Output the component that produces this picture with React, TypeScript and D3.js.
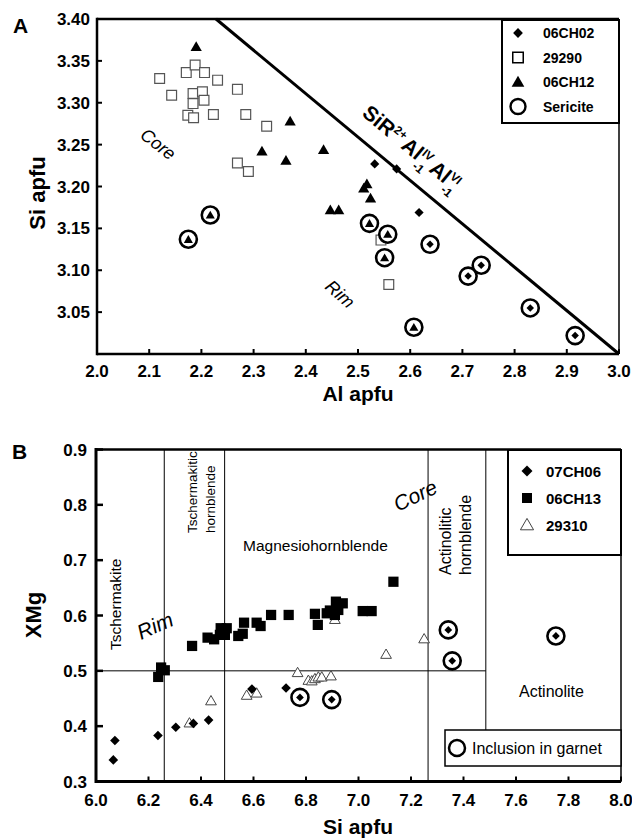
import React from "react";
import * as d3 from "d3";

const FONT = "'Liberation Sans', Arial, Helvetica, sans-serif";

// ---------- Panel A data: [Al apfu, Si apfu] ----------
const a06CH02 = [[2.532, 3.227], [2.574, 3.221], [2.617, 3.169]];
const a06CH02Sericite = [[2.638, 3.131], [2.711, 3.093], [2.736, 3.106], [2.830, 3.055], [2.916, 3.022]];
const a29290 = [
  [2.120, 3.329], [2.171, 3.336], [2.188, 3.345], [2.206, 3.336], [2.231, 3.327], [2.269, 3.316],
  [2.143, 3.309], [2.184, 3.311], [2.202, 3.313], [2.184, 3.299], [2.205, 3.303], [2.174, 3.285],
  [2.185, 3.282], [2.223, 3.286], [2.285, 3.286], [2.325, 3.272], [2.269, 3.228], [2.290, 3.218],
  [2.544, 3.136], [2.559, 3.083],
];
const a06CH12 = [
  [2.190, 3.367], [2.370, 3.278], [2.316, 3.242], [2.362, 3.231], [2.434, 3.244], [2.447, 3.172],
  [2.463, 3.172], [2.511, 3.198], [2.517, 3.203], [2.524, 3.186],
];
const a06CH12Sericite = [[2.175, 3.137], [2.217, 3.166], [2.522, 3.156], [2.557, 3.143], [2.551, 3.115], [2.607, 3.032]];
const aExchangeLine = [[2.228, 3.40], [3.0, 3.0]];
const aXTicks = [2.0, 2.1, 2.2, 2.3, 2.4, 2.5, 2.6, 2.7, 2.8, 2.9, 3.0];
const aYTicks = [3.05, 3.10, 3.15, 3.20, 3.25, 3.30, 3.35, 3.40];
const aLegend = ["06CH02", "29290", "06CH12", "Sericite"];

// ---------- Panel B data: [Si apfu, XMg] ----------
const b07CH06 = [[6.066, 0.339], [6.072, 0.374], [6.236, 0.383], [6.304, 0.398], [6.371, 0.405], [6.429, 0.411], [6.594, 0.467], [6.724, 0.469]];
const b07CH06Inclusion = [[6.777, 0.452], [6.898, 0.448], [7.342, 0.574], [7.357, 0.518], [7.752, 0.563]];
const b06CH13 = [
  [6.237, 0.489], [6.248, 0.506], [6.262, 0.501], [6.366, 0.545], [6.425, 0.560], [6.450, 0.557],
  [6.472, 0.565], [6.475, 0.577], [6.498, 0.577], [6.491, 0.565], [6.542, 0.563], [6.559, 0.567],
  [6.564, 0.587], [6.612, 0.587], [6.627, 0.581], [6.667, 0.601], [6.734, 0.601], [6.834, 0.603],
  [6.845, 0.583], [6.879, 0.604], [6.891, 0.609], [6.910, 0.601], [6.914, 0.625], [6.923, 0.610],
  [6.940, 0.622], [7.016, 0.608], [7.050, 0.608], [7.133, 0.661],
];
const b29310 = [
  [6.356, 0.406], [6.438, 0.446], [6.574, 0.456], [6.612, 0.460], [6.768, 0.497], [6.809, 0.483],
  [6.822, 0.482], [6.834, 0.486], [6.847, 0.489], [6.860, 0.489], [6.895, 0.491], [6.910, 0.593],
  [7.105, 0.530], [7.250, 0.558],
];
const bBoundaries = [6.26, 6.49, 7.265, 7.485];
const bXTicks = [6.0, 6.2, 6.4, 6.6, 6.8, 7.0, 7.2, 7.4, 7.6, 7.8, 8.0];
const bYTicks = [0.3, 0.4, 0.5, 0.6, 0.7, 0.8, 0.9];
const bLegend = ["07CH06", "06CH13", "29310"];

const sq = (s: number) => d3.symbol(d3.symbolSquare, s)() as string;
const tri = (s: number) => d3.symbol(d3.symbolTriangle, s)() as string;

function Diamond({ x, y, size }: { x: number; y: number; size: number }) {
  return <path d={sq(size)} transform={`translate(${x},${y}) rotate(45)`} fill="#000" />;
}
function Tri({ x, y, size, open }: { x: number; y: number; size: number; open?: boolean }) {
  return (
    <path
      d={tri(size)}
      transform={`translate(${x},${y + 1})`}
      fill={open ? "#fff" : "#000"}
      stroke={open ? "#444" : "none"}
      strokeWidth={open ? 1 : 0}
    />
  );
}

export default function App() {
  // Panel A scales
  const xA = d3.scaleLinear().domain([2.0, 3.0]).range([97, 619]);
  const yA = d3.scaleLinear().domain([3.0, 3.4]).range([354, 19]);
  // Panel B scales
  const xB = d3.scaleLinear().domain([6.0, 8.0]).range([96, 621]);
  const yB = d3.scaleLinear().domain([0.3, 0.9]).range([781.5, 449.5]);

  const line = d3.line<number[]>().x((d) => xA(d[0])).y((d) => yA(d[1]));
  const ang = (Math.atan2(yA(3.0) - yA(3.4), xA(3.0) - xA(2.228)) * 180) / Math.PI;

  return (
    <svg
      width={632}
      height={839}
      style={{ position: "absolute", left: 0, top: 0, background: "#fff" }}
      fontFamily={FONT}
    >
      <rect width={632} height={839} fill="#fff" />
      {/* ================= PANEL A ================= */}
      <text x={13} y={33} fontSize={21} fontWeight="bold">A</text>
      {/* frame */}
      <line x1={xA(2.0)} x2={xA(3.0)} y1={yA(3.4)} y2={yA(3.4)} stroke="#000" strokeWidth={2.5} />
      <line x1={xA(3.0)} x2={xA(3.0)} y1={yA(3.4)} y2={yA(3.0)} stroke="#000" strokeWidth={1.5} />
      <line x1={xA(2.0)} x2={xA(2.0)} y1={yA(3.4) - 1.2} y2={yA(3.0) + 1.2} stroke="#000" strokeWidth={2.5} />
      <line x1={xA(2.0)} x2={xA(3.0)} y1={yA(3.0)} y2={yA(3.0)} stroke="#000" strokeWidth={2.5} />
      {aXTicks.map((t) => (
        <g key={"ax" + t}>
          <line x1={xA(t)} x2={xA(t)} y1={yA(3.0)} y2={yA(3.0) - 5} stroke="#000" strokeWidth={2} />
          <text x={xA(t)} y={yA(3.0) + 23} fontSize={17} fontWeight="bold" textAnchor="middle">
            {t.toFixed(1)}
          </text>
        </g>
      ))}
      {aYTicks.map((t) => (
        <g key={"ay" + t}>
          <line x1={xA(2.0)} x2={xA(2.0) + 5} y1={yA(t)} y2={yA(t)} stroke="#000" strokeWidth={2} />
          <text x={xA(2.0) - 7} y={yA(t) + 6} fontSize={17} fontWeight="bold" textAnchor="end">
            {t.toFixed(2)}
          </text>
        </g>
      ))}
      <text transform="translate(45,193) rotate(-90)" fontSize={22} fontWeight="bold" textAnchor="middle">Si apfu</text>
      <text x={358} y={401} fontSize={21} fontWeight="bold" textAnchor="middle">Al apfu</text>

      {/* exchange vector line */}
      <path d={line(aExchangeLine) as string} stroke="#000" strokeWidth={3} fill="none" />
      <text transform={`translate(361,115) rotate(${ang})`} fontSize={21} fontWeight="bold">
        SiR<tspan dy={-8} fontSize={12}>2+</tspan>
        <tspan dy={8} dx={2}>Al</tspan>
        <tspan dy={-8} fontSize={12}>IV</tspan>
        <tspan dy={16} dx={-10} fontSize={12}>-1</tspan>
        <tspan dy={-8} dx={4}>Al</tspan>
        <tspan dy={-8} fontSize={12}>VI</tspan>
        <tspan dy={16} dx={-10} fontSize={12}>-1</tspan>
      </text>
      <text transform="translate(139,137) rotate(38)" fontSize={18} fontStyle="italic">Core</text>
      <text transform="translate(324,288) rotate(42)" fontSize={18} fontStyle="italic">Rim</text>

      {/* 29290 open squares */}
      {a29290.map((d, i) => (
        <path key={"sq" + i} d={sq(96)} transform={`translate(${xA(d[0])},${yA(d[1])})`} fill="#fff" stroke="#555" strokeWidth={1.2} />
      ))}
      {/* 06CH12 triangles */}
      {a06CH12.map((d, i) => (
        <Tri key={"t" + i} x={xA(d[0])} y={yA(d[1])} size={55} />
      ))}
      {/* 06CH02 diamonds */}
      {a06CH02.map((d, i) => (
        <Diamond key={"d" + i} x={xA(d[0])} y={yA(d[1])} size={42} />
      ))}
      {/* sericite (circled) */}
      {a06CH12Sericite.map((d, i) => (
        <g key={"st" + i}>
          <circle cx={xA(d[0])} cy={yA(d[1])} r={8.5} fill="#fff" stroke="#000" strokeWidth={2.6} />
          <Tri x={xA(d[0])} y={yA(d[1])} size={36} />
        </g>
      ))}
      {a06CH02Sericite.map((d, i) => (
        <g key={"sd" + i}>
          <circle cx={xA(d[0])} cy={yA(d[1])} r={8.5} fill="#fff" stroke="#000" strokeWidth={2.6} />
          <Diamond x={xA(d[0])} y={yA(d[1])} size={28} />
        </g>
      ))}

      {/* legend A */}
      <rect x={502} y={20} width={117} height={103} fill="#fff" stroke="#000" strokeWidth={2} />
      {aLegend.map((name, i) => {
        const cy = 33 + i * 24.5;
        const cx = 518;
        return (
          <g key={"la" + name}>
            {i === 0 && <Diamond x={cx} y={cy} size={48} />}
            {i === 1 && <path d={sq(110)} transform={`translate(${cx},${cy})`} fill="#fff" stroke="#000" strokeWidth={1.5} />}
            {i === 2 && <Tri x={cx} y={cy} size={70} />}
            {i === 3 && <circle cx={cx} cy={cy} r={7.5} fill="#fff" stroke="#000" strokeWidth={2.4} />}
            <text x={543} y={cy + 5} fontSize={14} fontWeight="bold">{name}</text>
          </g>
        );
      })}

      {/* ================= PANEL B ================= */}
      <text x={12} y={459} fontSize={21} fontWeight="bold">B</text>
      {/* field boundaries */}
      {bBoundaries.map((b, i) => (
        <line
          key={"bb" + i}
          x1={xB(b)}
          x2={xB(b)}
          y1={yB(0.9)}
          y2={i === 3 ? 730 : yB(0.3)}
          stroke="#000"
          strokeWidth={1}
        />
      ))}
      <line x1={xB(6.0)} x2={xB(7.485)} y1={yB(0.5)} y2={yB(0.5)} stroke="#000" strokeWidth={1} />

      {/* field labels */}
      <text transform="translate(121,650) rotate(-90)" fontSize={15.5}>Tschermakite</text>
      <text transform="translate(197,533) rotate(-90)" fontSize={13.5}>Tschermakitic</text>
      <text transform="translate(215,533) rotate(-90)" fontSize={13.5}>hornblende</text>
      <text x={243} y={551} fontSize={15.5}>Magnesiohornblende</text>
      <text transform="translate(451,575) rotate(-90)" fontSize={16}>Actinolitic</text>
      <text transform="translate(471,575) rotate(-90)" fontSize={16}>hornblende</text>
      <text x={519} y={697} fontSize={16}>Actinolite</text>
      <text transform="translate(141,640) rotate(-24)" fontSize={21} fontStyle="italic">Rim</text>
      <text transform="translate(398,512) rotate(-26)" fontSize={21} fontStyle="italic">Core</text>

      {/* frame B */}
      <line x1={xB(6.0)} x2={xB(8.0)} y1={yB(0.9)} y2={yB(0.9)} stroke="#000" strokeWidth={2.5} />
      <line x1={xB(8.0)} x2={xB(8.0)} y1={yB(0.9)} y2={yB(0.3)} stroke="#000" strokeWidth={1.5} />
      <line x1={xB(6.0)} x2={xB(6.0)} y1={yB(0.9) - 1.5} y2={yB(0.3) + 1.5} stroke="#000" strokeWidth={3} />
      <line x1={xB(6.0)} x2={xB(8.0)} y1={yB(0.3)} y2={yB(0.3)} stroke="#000" strokeWidth={3} />
      {bXTicks.map((t) => (
        <g key={"bx" + t}>
          <line x1={xB(t)} x2={xB(t)} y1={yB(0.3)} y2={yB(0.3) - 5} stroke="#000" strokeWidth={2} />
          <text x={xB(t)} y={yB(0.3) + 24} fontSize={17} fontWeight="bold" textAnchor="middle">
            {t.toFixed(1)}
          </text>
        </g>
      ))}
      {bYTicks.map((t) => (
        <g key={"by" + t}>
          <line x1={xB(6.0)} x2={xB(6.0) + 7} y1={yB(t)} y2={yB(t)} stroke="#000" strokeWidth={2.5} />
          <text x={xB(6.0) - 9} y={yB(t) + 6} fontSize={17} fontWeight="bold" textAnchor="end">
            {t.toFixed(1)}
          </text>
        </g>
      ))}
      <text transform="translate(41,615) rotate(-90)" fontSize={22} fontWeight="bold" textAnchor="middle">XMg</text>
      <text x={358} y={834} fontSize={21} fontWeight="bold" textAnchor="middle">Si apfu</text>

      {/* 29310 open triangles */}
      {b29310.map((d, i) => (
        <Tri key={"bt" + i} x={xB(d[0])} y={yB(d[1])} size={50} open />
      ))}
      {/* 06CH13 squares */}
      {b06CH13.map((d, i) => (
        <path key={"bs" + i} d={sq(105)} transform={`translate(${xB(d[0])},${yB(d[1])})`} fill="#000" />
      ))}
      {/* 07CH06 diamonds */}
      {b07CH06.map((d, i) => (
        <Diamond key={"bd" + i} x={xB(d[0])} y={yB(d[1])} size={46} />
      ))}
      {b07CH06Inclusion.map((d, i) => (
        <g key={"bi" + i}>
          <circle cx={xB(d[0])} cy={yB(d[1])} r={8.5} fill="#fff" stroke="#000" strokeWidth={2.6} />
          <Diamond x={xB(d[0])} y={yB(d[1])} size={30} />
        </g>
      ))}

      {/* legend B */}
      <rect x={508} y={450} width={113} height={105} fill="#fff" stroke="#000" strokeWidth={2} />
      {bLegend.map((name, i) => {
        const cy = 471 + i * 27;
        const cx = 527;
        return (
          <g key={"lb" + name}>
            {i === 0 && <Diamond x={cx} y={cy} size={60} />}
            {i === 1 && <path d={sq(100)} transform={`translate(${cx},${cy})`} fill="#000" />}
            {i === 2 && <Tri x={cx} y={cy} size={75} open />}
            <text x={546} y={cy + 5.5} fontSize={15} fontWeight="bold">{name}</text>
          </g>
        );
      })}
      <rect x={445} y={730} width={176} height={36} fill="#fff" stroke="#000" strokeWidth={1.5} />
      <circle cx={457} cy={748} r={8} fill="#fff" stroke="#000" strokeWidth={2.5} />
      <text x={472} y={754} fontSize={16}>Inclusion in garnet</text>
    </svg>
  );
}
